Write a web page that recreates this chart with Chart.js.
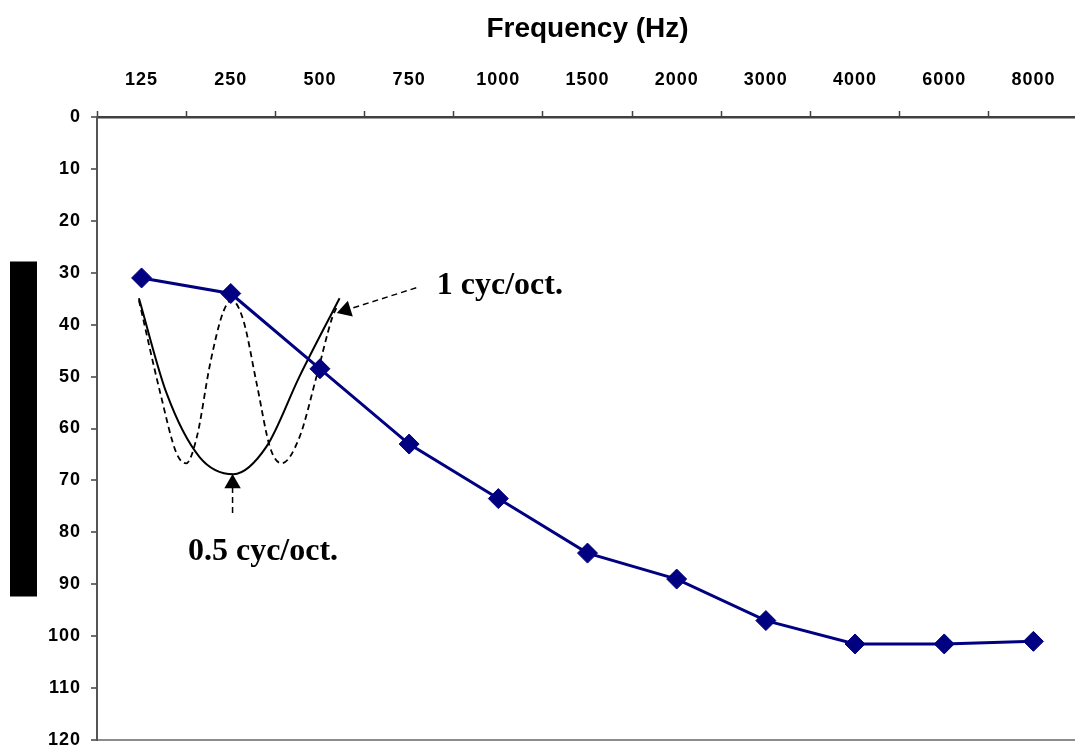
<!DOCTYPE html>
<html>
<head>
<meta charset="utf-8">
<script src="https://cdn.jsdelivr.net/npm/chart.js@4.4.1/dist/chart.umd.min.js"></script>
<style>
    html, body { margin: 0; padding: 0; background: #fff; overflow: hidden; }
    #wrap { position: relative; width: 1089px; height: 753px; }
</style>
</head>
<body>
<div id="wrap"><canvas id="audiogram"></canvas></div>
<script>
// audiogram values
const FREQ_LABELS  = ['125','250','500','750','1000','1500','2000','3000','4000','6000','8000'];
const THRESHOLD_DB = [31, 34, 48.5, 63, 73.5, 84, 89, 97, 101.5, 101.5, 101];
const DB_MIN  = 0;
const DB_MAX  = 120;
const DB_STEP = 10;

// ripple overlays, x in category-index units
const HALF_CYC_X = [-0.03, 0.28, 0.65, 1.03, 1.40, 1.77, 2.22];
const HALF_CYC_Y = [34.9, 53.2, 65.5, 68.8, 63.5, 50.0, 34.9];
const ONE_CYC_X  = [-0.03, 0.21, 0.39, 0.50, 0.62, 0.77, 0.91, 1.01, 1.14, 1.29, 1.44, 1.57, 1.77, 1.96, 2.14, 2.19];
const ONE_CYC_Y  = [35.3, 53.2, 64.7, 66.7, 61.6, 47.4, 37.8, 35.3, 39.1, 51.3, 63.6, 66.7, 61.7, 50.1, 38.5, 36.6];

// annotation arrows (tail -> head) and their notes
const ARROW_ONE_X  = [3.08, 2.29];
const ARROW_ONE_Y  = [32.9, 37.2];
const ARROW_HALF_X = [1.02, 1.02];
const ARROW_HALF_Y = [76.3, 70.6];
const NOTE_TEXT = ['1 cyc/oct.', '0.5 cyc/oct.'];
const NOTE_X    = [3.31, 0.52];
const NOTE_Y    = [32.5, 83.8];

const NAVY   = '#000080';
const AXIS   = '#404040';
const TICK_FONT = { family: "'Liberation Sans', Arial, sans-serif", size: 18, weight: 'bold' };

function pairs(xs, ys) {
    return xs.map((x, i) => ({ x, y: ys[i] }));
}

// tick labels in the original are spread out a little
function spacedLabels(scale) {
    if (scale._spaced) return;
    const orig = scale.drawLabels.bind(scale);
    scale.drawLabels = area => {
        scale.ctx.save();
        scale.ctx.letterSpacing = '1px';
        orig(area);
        scale.ctx.restore();
    };
    scale._spaced = true;
}

const notesPlugin = {
    id: 'notes',
    afterDatasetsDraw(chart) {
        const { ctx } = chart;
        const xs = chart.scales.xc, ys = chart.scales.y;
        ctx.save();
        ctx.fillStyle = '#000';
        ctx.font = "bold 32px 'Liberation Serif', 'Times New Roman', serif";
        ctx.textAlign = 'left';
        ctx.textBaseline = 'middle';
        NOTE_TEXT.forEach((t, i) => {
            ctx.fillText(t, xs.getPixelForValue(NOTE_X[i]), ys.getPixelForValue(NOTE_Y[i]));
        });
        ctx.restore();
    },
    afterDraw(chart) {
        // y-axis title block (solid black in the original)
        const { ctx, chartArea } = chart;
        const mid = (chartArea.top + chartArea.bottom) / 2;
        ctx.save();
        ctx.fillStyle = '#000';
        ctx.fillRect(chart.scales.y.left + 10, mid - 167, 27, 335);
        ctx.restore();
    }
};

function arrowSet(xs, ys, rot) {
    return {
        data: pairs(xs, ys),
        xAxisID: 'xc',
        borderColor: '#000',
        borderWidth: 1.5,
        borderDash: [6, 4],
        pointRadius: [0, 9.5],
        pointStyle: 'triangle',
        rotation: [0, rot],
        pointBackgroundColor: '#000',
        pointBorderWidth: 0,
        fill: false,
    };
}

new Chart(document.getElementById('audiogram'), {
    type: 'line',
    data: {
        labels: FREQ_LABELS,
        datasets: [
            {
                label: 'Threshold',
                data: THRESHOLD_DB,
                xAxisID: 'x',
                borderColor: NAVY,
                backgroundColor: NAVY,
                borderWidth: 3,
                pointStyle: 'rectRot',
                pointRadius: 10,
                pointBorderColor: NAVY,
                pointBorderWidth: 1,
                tension: 0,
                fill: false,
            },
            {
                label: '0.5 cyc/oct.',
                data: pairs(HALF_CYC_X, HALF_CYC_Y),
                xAxisID: 'xc',
                borderColor: '#000',
                borderWidth: 2,
                pointRadius: 0,
                cubicInterpolationMode: 'monotone',
                fill: false,
            },
            {
                label: '1 cyc/oct.',
                data: pairs(ONE_CYC_X, ONE_CYC_Y),
                xAxisID: 'xc',
                borderColor: '#000',
                borderWidth: 1.8,
                borderDash: [6, 4],
                pointRadius: 0,
                cubicInterpolationMode: 'monotone',
                fill: false,
            },
            arrowSet(ARROW_ONE_X, ARROW_ONE_Y, 252.6),
            arrowSet(ARROW_HALF_X, ARROW_HALF_Y, 0),
        ],
    },
    options: {
        responsive: true,
        maintainAspectRatio: false,
        animation: false,
        layout: { padding: { top: 0, left: 0, right: 0, bottom: 13 } },
        plugins: {
            legend:  { display: false },
            tooltip: { enabled: false },
        },
        scales: {
            x: {
                type: 'category',
                position: 'top',
                offset: true,
                grid: {
                    offset: true,
                    drawOnChartArea: false,
                    tickLength: 6,
                    tickColor: AXIS,
                    tickWidth: 1.5,
                },
                border: { color: AXIS, width: 2.5 },
                ticks: { color: '#000', font: TICK_FONT, padding: 20, maxRotation: 0, autoSkip: false },
                title: {
                    display: true,
                    text: 'Frequency (Hz)',
                    color: '#000',
                    font: { family: "'Liberation Sans', Arial, sans-serif", size: 28, weight: 'bold' },
                    padding: { top: 12, bottom: 0 },
                },
                afterFit(scale) {
                    scale.height = 117;
                    scale.paddingLeft = 0;
                    scale.paddingRight = 0;
                    spacedLabels(scale);
                },
            },
            xc: {
                type: 'linear',
                display: false,
                min: -0.5,
                max: FREQ_LABELS.length - 0.5,
            },
            y: {
                reverse: true,
                min: DB_MIN,
                max: DB_MAX,
                grid: {
                    color: c => (c.tick && c.tick.value === DB_MAX) ? '#8c8c8c' : 'rgba(0,0,0,0)',
                    lineWidth: 2,
                    tickLength: 6,
                    tickColor: AXIS,
                    tickWidth: 1.5,
                },
                border: { color: '#555', width: 2 },
                ticks: { stepSize: DB_STEP, color: '#000', font: TICK_FONT, padding: 10 },
                afterFit(scale) {
                    scale.width = 97;
                    scale.paddingTop = 0;
                    scale.paddingBottom = 0;
                    spacedLabels(scale);
                },
            },
        },
    },
    plugins: [notesPlugin],
});
</script>
</body>
</html>
